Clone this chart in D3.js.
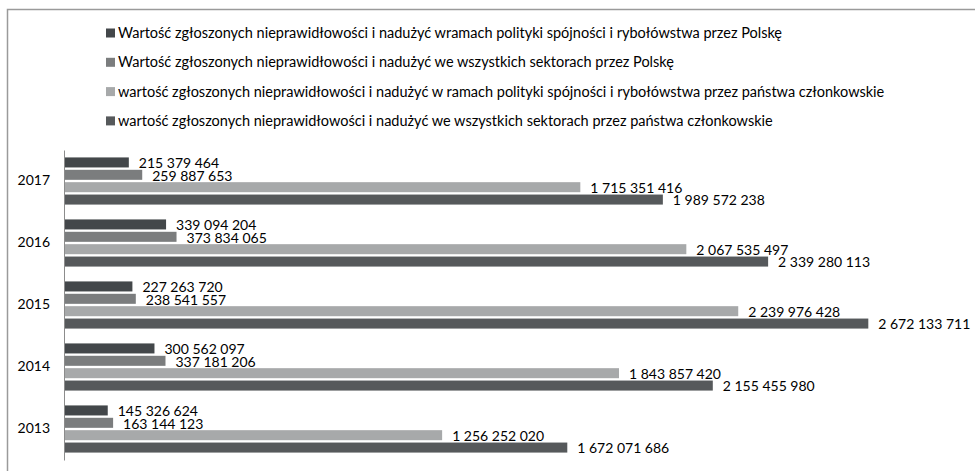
<!DOCTYPE html>
<html>
<head>
<meta charset="utf-8">
<script src="https://cdn.jsdelivr.net/npm/d3@7"></script>
<style>
  body { margin: 0; background: #fff; }
  svg text { font-family: Lato, "Open Sans", sans-serif; fill: #000; }
</style>
</head>
<body>
<div id="graph"></div>
<script>
// data
let years = ["2017", "2016", "2015", "2014", "2013"];
let seriesNames = [
  "Wartość zgłoszonych nieprawidłowości i nadużyć wramach polityki spójności i rybołówstwa przez Polskę",
  "Wartość zgłoszonych nieprawidłowości i nadużyć we wszystkich sektorach przez Polskę",
  "wartość zgłoszonych nieprawidłowości i nadużyć w ramach polityki spójności i rybołówstwa przez państwa członkowskie",
  "wartość zgłoszonych nieprawidłowości i nadużyć we wszystkich sektorach przez państwa członkowskie",
];
// one array per series, same order as years
let plCohesion = [215379464, 339094204, 227263720, 300562097, 145326624];
let plAll = [259887653, 373834065, 238541557, 337181206, 163144123];
let msCohesion = [1715351416, 2067535497, 2239976428, 1843857420, 1256252020];
let msAll = [1989572238, 2339280113, 2672133711, 2155455980, 1672071686];
let seriesValues = [plCohesion, plAll, msCohesion, msAll];
let colors = ["#43474a", "#7b7d7e", "#a7a9aa", "#56595b"];

let width = 975,
  height = 471;

let svg = d3
  .select("#graph")
  .append("svg")
  .attr("width", width)
  .attr("height", height);

// outer frame (runs off the right and bottom edge)
svg
  .append("rect")
  .attr("x", 7.5)
  .attr("y", 9.5)
  .attr("width", width + 20)
  .attr("height", height + 20)
  .attr("fill", "none")
  .attr("stroke", "#9a9a9a")
  .attr("stroke-width", 1.5);

// legend
let legend = svg
  .append("g")
  .selectAll("g")
  .data(seriesNames)
  .enter()
  .append("g")
  .attr("transform", (d, i) => "translate(106," + (33 + i * 29.3) + ")");

legend
  .append("rect")
  .attr("x", 0)
  .attr("y", -4.5)
  .attr("width", 9)
  .attr("height", 9)
  .attr("fill", (d, i) => colors[i]);

legend
  .append("text")
  .attr("x", 12)
  .attr("dy", "0.35em")
  .style("font-size", "14.5px")
  .text((d) => d);

// scales
let x = d3.scaleLinear().domain([0, 3000000000]).range([64, 967]);
let y0 = d3.scaleBand().domain(years).range([150, 460]).padding(0);
let y1 = d3
  .scaleBand()
  .domain(d3.range(seriesNames.length))
  .range([0, y0.bandwidth()])
  .paddingInner(0.19)
  .paddingOuter(0.6);

// rows of bars per year
let rows = years.map((yr, j) => ({
  year: yr,
  vals: seriesValues.map((s, i) => ({ i: i, v: s[j] })),
}));

let fmt = (v) => d3.format(",")(v).replace(/,/g, " ");

let group = svg
  .append("g")
  .selectAll("g")
  .data(rows)
  .enter()
  .append("g")
  .attr("transform", (d) => "translate(0," + y0(d.year) + ")");

group
  .selectAll("rect")
  .data((d) => d.vals)
  .enter()
  .append("rect")
  .attr("x", x(0))
  .attr("y", (d) => y1(d.i))
  .attr("width", (d) => x(d.v) - x(0))
  .attr("height", y1.bandwidth())
  .attr("fill", (d) => colors[d.i]);

group
  .selectAll("text")
  .data((d) => d.vals)
  .enter()
  .append("text")
  .attr("x", (d) => x(d.v) + 10)
  .attr("y", (d) => y1(d.i) + y1.bandwidth() / 2 + 1)
  .attr("dy", "0.35em")
  .style("font-size", "14px")
  .text((d) => fmt(d.v));

// category axis, line only with year labels
let axis = svg
  .append("g")
  .attr("transform", "translate(" + x(0) + ",0)")
  .call(d3.axisLeft(y0).tickSize(0).tickSizeOuter(0).tickPadding(14));
axis.select(".domain").attr("stroke", "#8c8c8c");
axis
  .selectAll("text")
  .style("font-size", "14px")
  .style("font-family", "Lato, sans-serif")
  .attr("fill", "#000");
</script>
</body>
</html>
